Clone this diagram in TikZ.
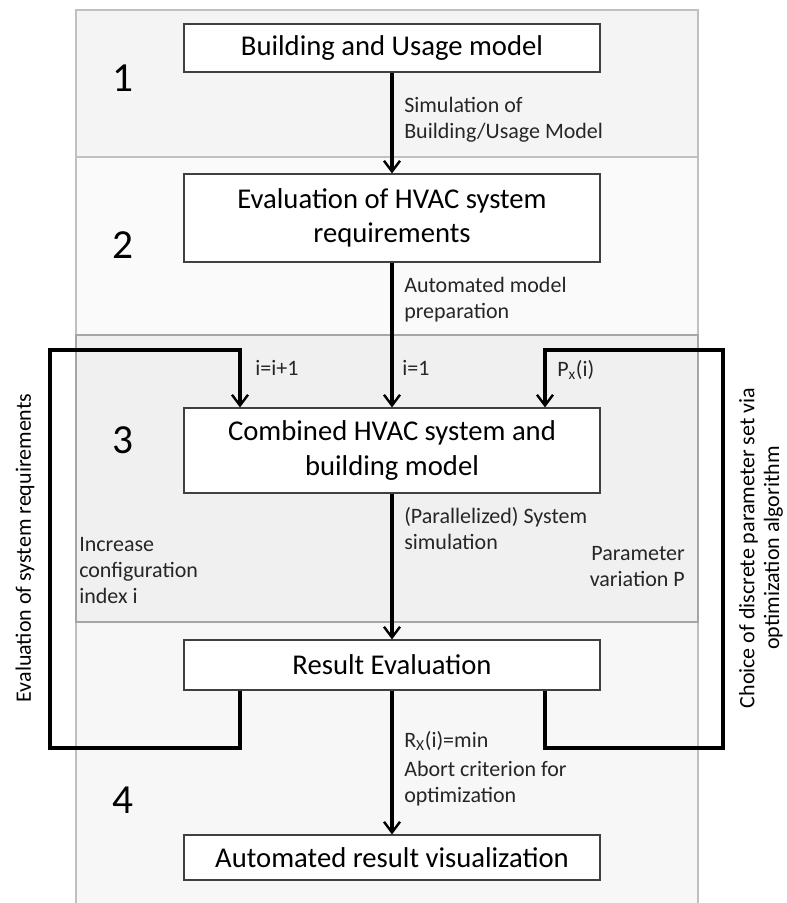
\documentclass[tikz,border=0pt]{standalone}
\usepackage{fontspec}
\setmainfont{Carlito}
\usetikzlibrary{arrows.meta,calc}
\definecolor{pone}{HTML}{F4F4F4}
\definecolor{ptwo}{HTML}{FAFAFA}
\definecolor{pthree}{HTML}{F0F0F0}
\definecolor{pfour}{HTML}{F7F7F7}
\definecolor{pborder}{HTML}{C0C0C0}
\definecolor{pborderdark}{HTML}{A6A6A6}
\tikzset{
  panel/.style={draw=pborder, line width=1.5pt},
  stepbox/.style={draw=black!75, fill=white, line width=0.8pt, minimum width=416*0.75pt, align=center, inner sep=0pt, font=\fontsize{21.5}{26}\selectfont},
  lbl/.style={anchor=north west, align=left, inner sep=0pt, font=\fontsize{16.5}{19.5}\selectfont, text=black!85},
  num/.style={font=\fontsize{31}{34}\selectfont, inner sep=0pt},
  flow/.style={line width=2.3pt, -{Straight Barb[length=8pt,width=12pt,line width=1.8pt]}},
  loopline/.style={line width=2.5pt, line join=miter},
}
\begin{document}
\begin{tikzpicture}[x=0.75pt,y=-0.75pt]
\useasboundingbox (0,0) rectangle (787,903);
% panels
\fill[pone] (76,10) rectangle (698,157);
\fill[ptwo] (76,157) rectangle (698,335);
\fill[pfour] (76,622) rectangle (698,903);
\fill[pthree] (76,335) rectangle (698,622);
\draw[panel] (76,903) -- (76,10) -- (698,10) -- (698,903);
\draw[panel] (76,157) -- (698,157);
\draw[panel, draw=pborderdark] (76,335) rectangle (698,622);

% boxes
\node[stepbox, minimum height=48*0.75pt] (b1) at (392,48) {Building and Usage model};
\node[stepbox, minimum height=88*0.75pt] (b2) at (392,218) {Evaluation of HVAC system\\requirements};
\node[stepbox, minimum height=85*0.75pt] (b3) at (392,450.5) {Combined HVAC system and\\building model};
\node[stepbox, minimum height=50*0.75pt] (re) at (392,665) {Result Evaluation};
\node[stepbox, minimum height=45*0.75pt] (av) at (392,857.5) {Automated result visualization};

% numbers
\node[num] (n1) at (123,78) {1};
\node[num] (n2) at (123,245) {2};
\node[num] (n3) at (123,440) {3};
\node[num] (n4) at (123,800) {4};

% main flow
\draw[flow] (b1) -- (b2);
\draw[flow] (b2) -- (b3);
\draw[flow] (b3) -- (re);
\draw[flow] (re) -- (av);

% loops
\coordinate (xl) at (240,0);
\coordinate (xr) at (545,0);
\coordinate (lb) at (50,748);
\coordinate (lt) at (50,350);
\coordinate (rb) at (723,748);
\coordinate (rt) at (723,350);
\draw[loopline] (re.south -| xl) -- (xl |- lb) -- (lb) -- (lt) -- (xl |- lt) -- ++(0,2);
\draw[flow] (xl |- lt) -- (b3.north -| xl);
\draw[loopline] (re.south -| xr) -- (xr |- rb) -- (rb) -- (rt) -- (xr |- rt) -- ++(0,2);
\draw[flow] (xr |- rt) -- (b3.north -| xr);

% labels
\node[lbl] (l1) at (404,97) {Simulation of\\Building/Usage Model};
\node[lbl] (l2) at (404,277) {Automated model\\preparation};
\node[lbl] (l3) at (255,360) {i=i+1};
\node[lbl] (l4) at (402,360) {i=1};
\node[lbl] (l5) at (557,360) {P\textsubscript{x}(i)};
\node[lbl] (l6) at (404,507) {(Parallelized) System\\simulation};
\node[lbl] (l7) at (79,537) {Increase\\configuration\\index i};
\node[lbl, anchor=north east, align=right] (l8) at (685,546) {Parameter\\variation P};
\node[lbl] (l9) at (404,731) {R\textsubscript{X}(i)=min};
\node[lbl] (l10) at (404,761) {Abort criterion for\\optimization};
\node[lbl, anchor=center, rotate=90, text=black] (l11) at (25,548) {Evaluation of system requirements};
\node[lbl, anchor=center, align=center, rotate=90, text=black, font=\fontsize{16.5}{18.5}\selectfont] (l12) at (761,548) {Choice of discrete parameter set via\\optimization algorithm};
\end{tikzpicture}
\end{document}
